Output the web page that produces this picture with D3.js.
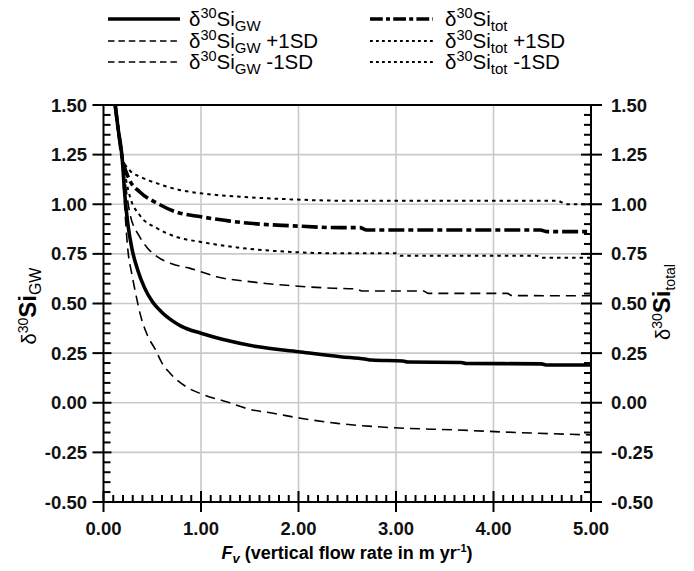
<!DOCTYPE html>
<html>
<head>
<meta charset="utf-8">
<script src="https://cdn.jsdelivr.net/npm/d3@7"></script>
<style>
  body { margin: 0; background: #fff; }
  svg { display: block; font-family: "Liberation Sans", Arial, Helvetica, sans-serif; }
</style>
</head>
<body>
<div id="chart"></div>
<script>
// Values: [Fv (m/yr), delta30Si]
const siGW = [[0.12,1.50],[0.15,1.38],[0.19,1.24],[0.22,1.04],[0.25,0.90],[0.29,0.78],[0.35,0.67],[0.42,0.58],
  [0.5,0.51],[0.6,0.455],[0.7,0.415],[0.8,0.385],[1.0,0.35],[1.25,0.316],[1.57,0.283],[2.0,0.257],
  [2.43,0.232],[2.68,0.22],[2.75,0.215],[3.07,0.21],[3.12,0.205],[3.67,0.203],[3.72,0.198],[4.49,0.196],[4.55,0.19],[5.0,0.19]];
const siGWplus = [[0.12,1.50],[0.15,1.38],[0.19,1.24],[0.22,1.12],[0.27,0.955],[0.37,0.837],[0.45,0.78],[0.55,0.736],
  [0.7,0.70],[0.89,0.677],[1.0,0.66],[1.16,0.635],[1.5,0.61],[1.84,0.593],[2.36,0.577],[2.6,0.573],[2.65,0.563],
  [3.28,0.563],[3.33,0.551],[4.14,0.551],[4.19,0.54],[5.0,0.539]];
const siGWminus = [[0.12,1.50],[0.15,1.38],[0.19,1.24],[0.21,1.05],[0.25,0.77],[0.29,0.65],[0.33,0.55],[0.38,0.44],
  [0.45,0.34],[0.53,0.27],[0.6,0.20],[0.68,0.15],[0.85,0.08],[1.0,0.045],[1.26,0.005],[1.5,-0.033],[1.74,-0.053],
  [2.02,-0.078],[2.4,-0.104],[2.94,-0.125],[3.62,-0.137],[4.24,-0.15],[5.0,-0.162]];
const siTot = [[0.12,1.50],[0.15,1.38],[0.19,1.24],[0.27,1.12],[0.37,1.063],[0.55,1.005],[0.75,0.96],[1.0,0.937],
  [1.3,0.915],[1.6,0.90],[1.91,0.892],[2.43,0.882],[2.63,0.882],[2.7,0.87],[4.48,0.87],[4.55,0.862],[5.0,0.862]];
const siTotPlus = [[0.12,1.50],[0.15,1.38],[0.19,1.24],[0.27,1.17],[0.37,1.14],[0.55,1.105],[0.8,1.07],[1.0,1.055],
  [1.5,1.035],[1.91,1.025],[2.43,1.018],[4.65,1.018],[4.75,1.0],[5.0,1.0]];
const siTotMinus = [[0.12,1.50],[0.15,1.38],[0.19,1.24],[0.27,1.04],[0.37,0.946],[0.55,0.879],[0.75,0.835],[1.0,0.81],
  [1.5,0.775],[1.91,0.76],[2.43,0.753],[3.0,0.753],[3.05,0.74],[4.44,0.74],[4.5,0.731],[5.0,0.731]];

const fvTicks = [0, 1, 2, 3, 4, 5];
const siTicks = [-0.5, -0.25, 0, 0.25, 0.5, 0.75, 1, 1.25, 1.5];

const width = 694, height = 571;
const x = d3.scaleLinear().domain([0, 5]).range([103.5, 591]);
const y = d3.scaleLinear().domain([-0.5, 1.5]).range([502, 105]);

const svg = d3.select('#chart').append('svg')
  .attr('width', width).attr('height', height);

// gridlines at major ticks
const grid = svg.append('g').attr('stroke', '#c9c9c9').attr('stroke-width', 1.6);
grid.selectAll('line.gx').data(fvTicks.slice(1, -1)).join('line')
  .attr('x1', d => x(d)).attr('x2', d => x(d)).attr('y1', y(1.5)).attr('y2', y(-0.5));
grid.selectAll('line.gy').data(siTicks.slice(1, -1)).join('line')
  .attr('y1', d => y(d)).attr('y2', d => y(d)).attr('x1', x(0)).attr('x2', x(5));

svg.append('clipPath').attr('id', 'plot')
  .append('rect').attr('x', x(0)).attr('y', y(1.5)).attr('width', x(5) - x(0)).attr('height', y(-0.5) - y(1.5));

const styles = [
  { data: siGW, w: 3.6, dash: null },
  { data: siGWplus, w: 1.6, dash: '10,6' },
  { data: siGWminus, w: 1.6, dash: '10,6' },
  { data: siTot, w: 3.6, dash: '16,4,5,4' },
  { data: siTotPlus, w: 2, dash: '3.5,4' },
  { data: siTotMinus, w: 2, dash: '3.5,4' }
];

const line = d3.line().x(d => x(d[0])).y(d => y(d[1])).curve(d3.curveMonotoneX);
svg.append('g').attr('clip-path', 'url(#plot)')
  .selectAll('path').data(styles).join('path')
  .attr('d', d => line(d.data))
  .attr('fill', 'none')
  .attr('stroke', '#000')
  .attr('stroke-width', d => d.w)
  .attr('stroke-dasharray', d => d.dash);

// axes with crossing major ticks and inward minor ticks
const ax = svg.append('g').attr('stroke', '#000').attr('stroke-width', 2);
ax.append('line').attr('x1', x(0)).attr('x2', x(5)).attr('y1', y(1.5)).attr('y2', y(1.5));
ax.append('line').attr('x1', x(0)).attr('x2', x(5)).attr('y1', y(-0.5)).attr('y2', y(-0.5));
ax.append('line').attr('x1', x(0)).attr('x2', x(0)).attr('y1', y(1.5)).attr('y2', y(-0.5));
ax.append('line').attr('x1', x(5)).attr('x2', x(5)).attr('y1', y(1.5)).attr('y2', y(-0.5));

const minorX = d3.range(1, 50).map(i => i / 10).filter(v => Math.abs(v - Math.round(v)) > 1e-6);
const minorY = d3.range(-9, 30).map(i => i / 20).filter(v => Math.abs(v * 4 - Math.round(v * 4)) > 1e-6);

ax.selectAll('line.mx').data(minorX).join('line')
  .attr('x1', d => x(d)).attr('x2', d => x(d)).attr('y1', y(-0.5)).attr('y2', y(-0.5) - 7);
ax.selectAll('line.Mx').data(fvTicks).join('line')
  .attr('x1', d => x(d)).attr('x2', d => x(d)).attr('y1', y(-0.5) - 11).attr('y2', y(-0.5) + 10);

ax.selectAll('line.my').data(minorY).join('line')
  .attr('x1', x(0)).attr('x2', x(0) + 7).attr('y1', d => y(d)).attr('y2', d => y(d));
ax.selectAll('line.My').data(siTicks).join('line')
  .attr('x1', x(0) - 11).attr('x2', x(0) + 8).attr('y1', d => y(d)).attr('y2', d => y(d));
ax.selectAll('line.myr').data(minorY).join('line')
  .attr('x1', x(5)).attr('x2', x(5) - 7).attr('y1', d => y(d)).attr('y2', d => y(d));
ax.selectAll('line.Myr').data(siTicks).join('line')
  .attr('x1', x(5) - 10).attr('x2', x(5) + 11).attr('y1', d => y(d)).attr('y2', d => y(d));

// tick labels
const tl = svg.append('g').attr('font-size', 18.5).attr('font-weight', 'bold').attr('fill', '#111');
tl.selectAll('text.xl').data(fvTicks).join('text')
  .attr('x', d => x(d)).attr('y', 535).attr('text-anchor', 'middle')
  .text(d => d.toFixed(2));
tl.selectAll('text.yl').data(siTicks).join('text')
  .attr('x', 87).attr('y', d => y(d) + 6.5).attr('text-anchor', 'end')
  .text(d => d.toFixed(2));
tl.selectAll('text.yr').data(siTicks).join('text')
  .attr('x', 611).attr('y', d => y(d) + 6.5).attr('text-anchor', 'start')
  .text(d => d.toFixed(2));

// x title
const xt = svg.append('text').attr('x', 347).attr('y', 559).attr('text-anchor', 'middle')
  .attr('font-size', 18).attr('font-weight', 'bold');
xt.append('tspan').attr('font-style', 'italic').text('F');
xt.append('tspan').attr('font-style', 'italic').attr('font-size', 13).attr('dy', 4).text('v');
xt.append('tspan').attr('dy', -4).text(' (vertical flow rate in m yr');
xt.append('tspan').attr('font-size', 11).attr('dy', -7).text('-1');
xt.append('tspan').attr('dy', 7).text(')');

// y titles
function siLabel(g, sub, bigSub) {
  g.append('tspan').attr('font-size', 20).attr('font-weight', 'normal').text('δ');
  g.append('tspan').attr('font-size', 14).attr('font-weight', 'normal').attr('dy', -8).text('30');
  g.append('tspan').attr('font-size', 24).attr('dy', 8).text('Si');
  g.append('tspan').attr('font-size', bigSub ? 16 : 14).attr('font-weight', 'normal').attr('dy', 5).text(sub);
}
const yl = svg.append('text').attr('transform', 'translate(36,306) rotate(-90)')
  .attr('text-anchor', 'middle').attr('font-weight', 'bold');
siLabel(yl, 'GW', true);
const yr = svg.append('text').attr('transform', 'translate(670,302) rotate(-90)')
  .attr('text-anchor', 'middle').attr('font-weight', 'bold');
siLabel(yr, 'total', false);

// legend
const legendItems = [
  { col: 0, row: 0, sub: 'GW', tail: '', s: styles[0] },
  { col: 0, row: 1, sub: 'GW', tail: ' +1SD', s: styles[1] },
  { col: 0, row: 2, sub: 'GW', tail: ' -1SD', s: styles[2] },
  { col: 1, row: 0, sub: 'tot', tail: '', s: styles[3] },
  { col: 1, row: 1, sub: 'tot', tail: ' +1SD', s: styles[4] },
  { col: 1, row: 2, sub: 'tot', tail: ' -1SD', s: styles[5] }
];
const colX = [[108, 180, 189], [370, 433, 445]];
const rowY = [19, 41, 62];
const lg = svg.append('g');
legendItems.forEach(it => {
  const [x1, x2, tx] = colX[it.col];
  const ly = rowY[it.row];
  const dash = it.s.dash ? it.s.dash.split(',').map(v => v * (it.col === 0 ? 0.65 : 0.8)).join(',') : null;
  lg.append('line').attr('x1', x1).attr('x2', x2).attr('y1', ly).attr('y2', ly)
    .attr('stroke', '#000').attr('stroke-width', it.s.w)
    .attr('stroke-dasharray', dash);
  const t = lg.append('text').attr('x', tx).attr('y', ly + 7).attr('font-size', 20.5);
  t.append('tspan').text('δ');
  t.append('tspan').attr('font-size', 14.5).attr('dy', -8).text('30');
  t.append('tspan').attr('dy', 8).text('Si');
  t.append('tspan').attr('font-size', 15).attr('dy', 5).text(it.sub);
  if (it.tail) t.append('tspan').attr('dy', -5).text(it.tail);
});
</script>
</body>
</html>
